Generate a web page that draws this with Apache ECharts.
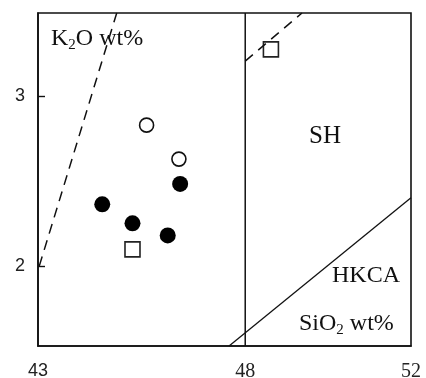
<!DOCTYPE html>
<html><head><meta charset="utf-8">
<script src="https://cdn.jsdelivr.net/npm/echarts@6/dist/echarts.min.js"></script>
<style>html,body{margin:0;padding:0;background:#fff}#c{width:426px;height:378px}</style>
</head><body><div id="c"></div>
<script>
// ---- data ----
const xTicks = [43, 48, 52];
const yTicks = [2, 3];
const xRange = [43, 52];
const yRange = [1.53, 3.49];
const filledCircles = [[46.43, 2.484], [44.55, 2.364], [45.28, 2.252], [46.13, 2.181]];
const openCircles = [[45.62, 2.83], [46.40, 2.63]];
const openSquares = [[45.28, 2.099], [48.62, 3.276]];
const dashLeft = [[43.03, 2.0], [44.90, 3.49]];
const dashRight = [[48.0, 3.207], [49.37, 3.49]];
const hkcaLine = [[47.61, 1.53], [52.0, 2.402]];
const divider = [[48, 1.53], [48, 3.49]];

const serifName = 'Liberation Serif';
const serif = '"Liberation Serif", "Times New Roman", serif';
const sans = '"Liberation Sans", Arial, sans-serif';
const ink = '#111';

const chart = echarts.init(document.getElementById('c'), null, {renderer: 'canvas'});

const mctx = document.createElement('canvas').getContext('2d');
function tw(text, size) {
  mctx.font = size + 'px "' + serifName + '"';
  return mctx.measureText(text).width;
}

function lineSeries(data, type, width) {
  return {
    type: 'line', data: data, symbol: 'none', silent: true, animation: false,
    lineStyle: {color: ink, width: width, type: type},
    clip: true
  };
}

function txt(x, y, text, size) {
  return {
    type: 'text', silent: true,
    style: {x: x, y: y, text: text, fontFamily: serif, fontSize: size, fill: '#111', verticalAlign: 'top', align: 'left'}
  };
}

// label with subscript: parts [main, sub, main]
function subLabel(x, capTopY, a, s, b) {
  const big = 24, small = 15;
  const y = capTopY - 4;
  const ys = capTopY + 9.5 - 2.5;
  const w1 = tw(a, big), w2 = tw(s, small);
  return [txt(x, y, a, big), txt(x + w1, ys, s, small), txt(x + w1 + w2, y, b, big)];
}

chart.setOption({
  animation: false,
  backgroundColor: '#fff',
  grid: {left: 38, right: 15, top: 13, bottom: 32, outerBoundsMode: 'none', containLabel: false,
         show: true, borderColor: ink, borderWidth: 1.6, backgroundColor: 'transparent'},
  xAxis: {
    type: 'value', min: xRange[0], max: xRange[1],
    splitLine: {show: false},
    axisLine: {show: true, lineStyle: {color: ink, width: 1.6}},
    axisTick: {show: false},
    axisLabel: {
      customValues: xTicks, margin: 16, color: '#222',
      formatter: v => v === 43 ? '{s|' + v + '}' : '{t|' + v + '}',
      rich: {
        s: {fontFamily: sans, fontSize: 18, color: '#222'},
        t: {fontFamily: serif, fontSize: 20, color: '#222'}
      }
    }
  },
  yAxis: {
    type: 'value', min: yRange[0], max: yRange[1],
    splitLine: {show: false},
    axisLine: {show: true, lineStyle: {color: ink, width: 1.6}},
    axisTick: {show: true, inside: true, length: 7, customValues: yTicks, lineStyle: {color: ink, width: 1.4}},
    axisLabel: {customValues: yTicks, margin: 13, fontFamily: sans, fontSize: 18, color: '#222'}
  },
  series: [
    lineSeries(divider, 'solid', 1.5),
    lineSeries(hkcaLine, 'solid', 1.3),
    lineSeries(dashLeft, [10, 7], 1.5),
    lineSeries(dashRight, [10, 7], 1.5),
    {
      type: 'scatter', data: filledCircles, symbol: 'circle', symbolSize: 16,
      itemStyle: {color: '#000', opacity: 1}
    },
    {
      type: 'scatter', data: openCircles, symbol: 'circle', symbolSize: 14,
      itemStyle: {color: '#fff', borderColor: '#111', borderWidth: 1.6, opacity: 1}
    },
    {
      type: 'scatter', data: openSquares, symbol: 'rect', symbolSize: 15,
      itemStyle: {color: '#fff', borderColor: '#222', borderWidth: 1.6, opacity: 1}
    }
  ],
  graphic: [].concat(
    subLabel(51, 31, 'K', '2', 'O wt%'),
    [txt(309, 124, 'SH', 25), txt(332, 264, 'HKCA', 24)],
    subLabel(299, 316, 'SiO', '2', ' wt%')
  )
});
</script>
</body></html>
